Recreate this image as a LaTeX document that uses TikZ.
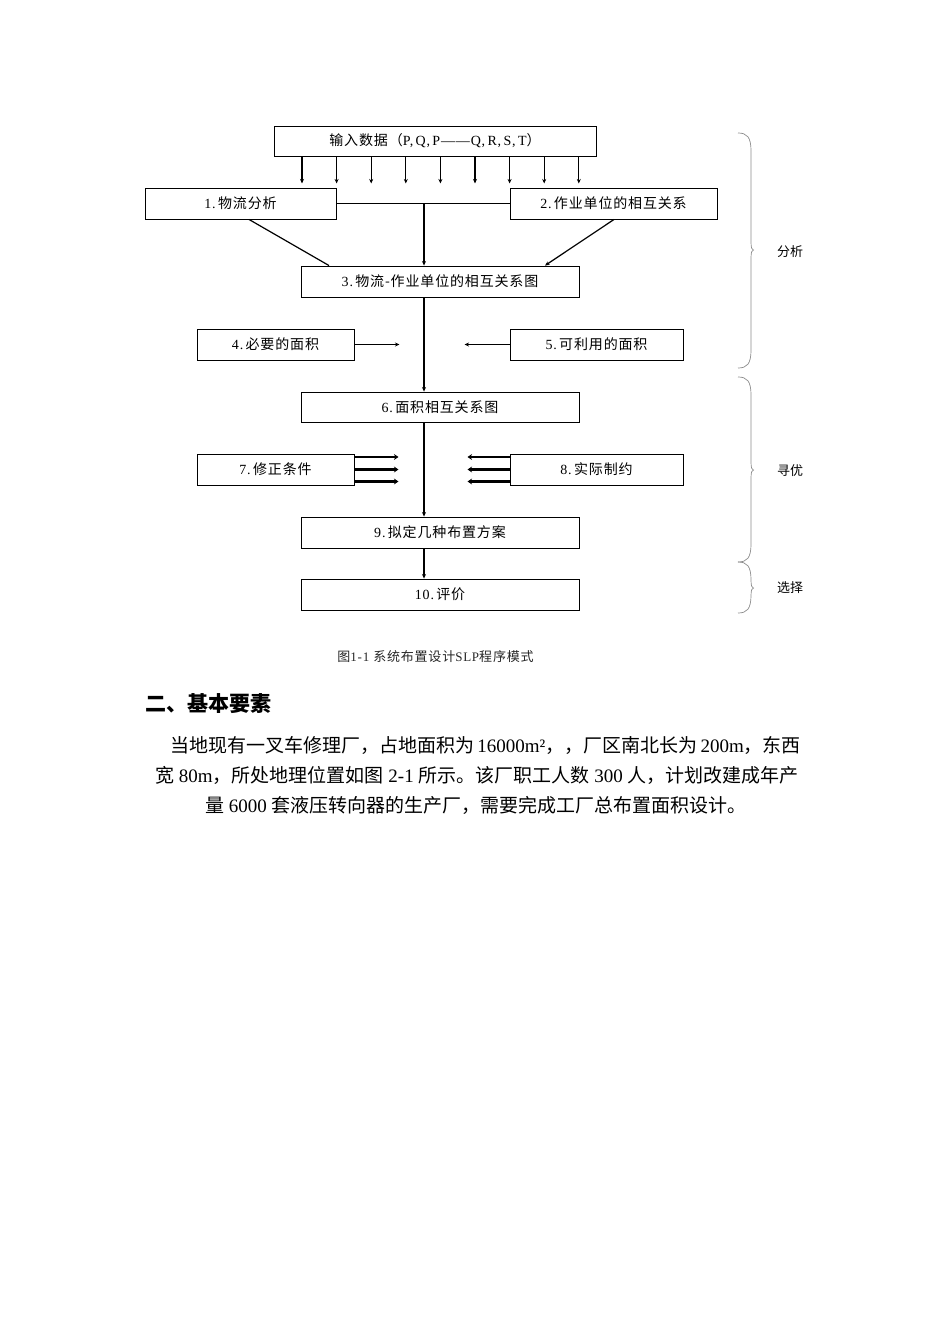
\documentclass[tikz,border=0pt]{standalone}
\usepackage{fontspec}
\setmainfont{Liberation Serif}
\newfontfamily\cjk{Noto Sans CJK SC}
\newfontfamily\cjkb{Noto Sans CJK SC}[LetterSpace=6]
\newfontfamily\serb{Liberation Serif}[LetterSpace=6]
\usetikzlibrary{arrows.meta,calc}
\newcommand\mybrace[3]{%
 \draw[bracestyle] (738,#1) .. controls (747,#1) and (751,#1+4) .. (751,#1+18) -- (751,#3-8)
   .. controls (751,#3-2) and (752,#3) .. (753.5,#3)
   .. controls (752,#3) and (751,#3+2) .. (751,#3+8) -- (751,#2-18)
   .. controls (751,#2-4) and (747,#2) .. (738,#2);}
\begin{document}
\begin{tikzpicture}[x=1pt,y=-1pt,
 box/.style={draw,line width=0.9pt,inner sep=0pt,minimum height=31pt,font=\fontsize{14}{16}\selectfont\serb},
 arr/.style={line width=1.2pt,-{Stealth[length=4.5pt,width=4pt]}},
 tarr/.style={line width=2.6pt,-{Stealth[length=4.5pt,width=6pt]}},
 ln/.style={line width=1.2pt},
 bracestyle/.style={draw=black!45,line width=0.7pt},
 lbl/.style={inner sep=0pt,font=\fontsize{13}{15}\selectfont\cjk},
 para/.style={anchor=base west,inner sep=0pt,font=\fontsize{19}{22}\selectfont},
]
\useasboundingbox (0,0) rectangle (950,1344);
\fill[white] (0,0) rectangle (950,1344);

% boxes
\node[box,minimum width=322pt,minimum height=30pt] (in) at (435,141) {{\cjkb 输入数据（}P,\,Q,\,P——Q,\,R,\,S,\,T{\cjkb ）}};
\node[box,minimum width=191pt] (b1) at (240.5,203.5) {1.\,{\cjkb 物流分析}};
\node[box,minimum width=207pt] (b2) at (613.5,203.5) {2.\,{\cjkb 作业单位的相互关系}};
\node[box,minimum width=278pt] (b3) at (440,281.5) {3.\,{\cjkb 物流-作业单位的相互关系图}};
\node[box,minimum width=157pt] (b4) at (275.5,344.5) {4.\,{\cjkb 必要的面积}};
\node[box,minimum width=173pt] (b5) at (596.5,344.5) {5.\,{\cjkb 可利用的面积}};
\node[box,minimum width=278pt,minimum height=30pt] (b6) at (440,407) {6.\,{\cjkb 面积相互关系图}};
\node[box,minimum width=157pt] (b7) at (275.5,469.5) {7.\,{\cjkb 修正条件}};
\node[box,minimum width=173pt] (b8) at (596.5,469.5) {8.\,{\cjkb 实际制约}};
\node[box,minimum width=278pt] (b9) at (440,532.5) {9.\,{\cjkb 拟定几种布置方案}};
\node[box,minimum width=278pt] (b10) at (440,594.5) {10.\,{\cjkb 评价}};

% input arrows
\foreach \i in {0,...,8} {
  \draw[arr] ([xshift={-133+34.6*\i}]in.south) -- ([xshift={-133+34.6*\i},yshift=-27pt]in.south);
}

% connectors
\coordinate (v) at (424,0);
\coordinate (j) at (424,203.5);
\draw[ln] (b1.east) -- (b2.west);
\draw[arr] (j) -- (j |- b3.north);
\draw[ln] ([xshift=8.5pt]b1.south) -- ([xshift=-111pt]b3.north);
\draw[arr] ([xshift=0.5pt]b2.south) -- ([xshift=105pt]b3.north);
\draw[arr] (b3.south -| v) -- (b6.north -| v);
\draw[arr] (b6.south -| v) -- (b9.north -| v);
\draw[arr] (b9.south -| v) -- (b10.north -| v);
\draw[arr] (b4.east) -- ([xshift=45pt]b4.east);
\draw[arr] (b5.west) -- ([xshift=-45pt]b5.west);
\foreach \d in {12.5,0,-12} {
  \draw[tarr] ([yshift=\d pt]b7.east) -- ([xshift=44pt,yshift=\d pt]b7.east);
  \draw[tarr] ([yshift=\d pt]b8.west) -- ([xshift=-42pt,yshift=\d pt]b8.west);
}

% braces
\mybrace{133}{368}{250}
\mybrace{377}{562}{470}
\mybrace{562}{613}{588}
\node[lbl] (l1) at (790,252) {分析};
\node[lbl] (l2) at (790,471) {寻优};
\node[lbl] (l3) at (790,588) {选择};

% caption
\node[inner sep=0pt,font=\fontsize{13}{15}\selectfont\serb,text=black!85] (cap) at (435.5,657) {{\cjkb 图}1-1\ {\cjkb 系统布置设计}SLP{\cjkb 程序模式}};

% heading and paragraph
\node[anchor=base west,inner sep=0pt,font=\fontsize{21}{24}\selectfont\cjk\bfseries] (h) at (145,711) {二、基本要素};
\node[para] (p1) at (170,752) {{\cjk 当地现有一叉车修理厂，占地面积为}\,16000m²{\cjk ，，厂区南北长为}\,200m{\cjk ，东西}};
\node[para] (p2) at (155,782) {{\cjk 宽}\ 80m{\cjk ，所处地理位置如图}\ 2-1\ {\cjk 所示。该厂职工人数}\ 300\ {\cjk 人，计划改建成年产}};
\node[para] (p3) at (205,812) {{\cjk 量}\ 6000\ {\cjk 套液压转向器的生产厂，需要完成工厂总布置面积设计。}};
\end{tikzpicture}
\end{document}
